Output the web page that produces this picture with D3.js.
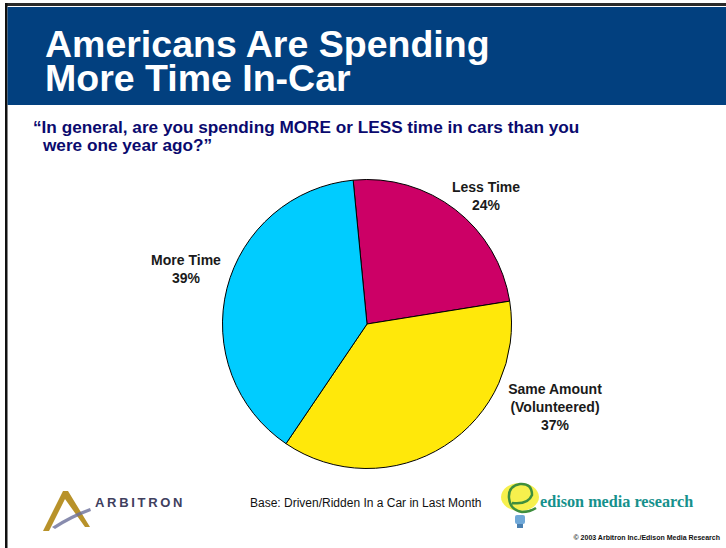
<!DOCTYPE html>
<html>
<head>
<meta charset="utf-8">
<script src="https://cdn.jsdelivr.net/npm/d3@7"></script>
<style>
  html, body { margin: 0; padding: 0; background: #fff; }
  svg { display: block; font-family: "Liberation Sans", Arial, sans-serif; }
</style>
</head>
<body>
<div id="chart"></div>
<script>
// pie data
const categories = ['Less Time', 'Same Amount', 'More Time'];
const labelLines = [['Less Time'], ['Same Amount', '(Volunteered)'], ['More Time']];
const values = [24, 37, 39];
const colors = ['#CC0066', '#FFE80A', '#00CCFF'];

const titleLines = ['Americans Are Spending', 'More Time In-Car'];
const questionLines = ['\u201cIn general, are you spending MORE or LESS time in cars than you', 'were one year ago?\u201d'];
const baseNote = 'Base: Driven/Ridden In a Car in Last Month';
const copyright = '\u00a9 2003 Arbitron Inc./Edison Media Research';

const width = 726, height = 548;
const cx = 367, cy = 324, radius = 144.5;

// where each label block sits (hand placed, like the slide)
const labelPos = {
    'Less Time':   { x: 486, y: 192 },
    'Same Amount': { x: 555, y: 394 },
    'More Time':   { x: 186, y: 265 }
};

const svg = d3.select('#chart').append('svg')
    .attr('width', width)
    .attr('height', height);

// frame + header band
svg.append('rect').attr('x', 5).attr('y', 3).attr('width', width - 5).attr('height', 3).attr('fill', '#2a2a2a');
svg.append('rect').attr('x', 5).attr('y', 3).attr('width', 2.5).attr('height', height - 3).attr('fill', '#111');
svg.append('rect')
    .attr('x', 7.5).attr('y', 7)
    .attr('width', width - 7.5).attr('height', 98)
    .attr('fill', '#02407F');

// title as one block, two lines
svg.append('text')
    .attr('fill', '#fff')
    .attr('font-size', '37.5px')
    .attr('font-weight', 'bold')
    .selectAll('tspan')
    .data(titleLines)
    .join('tspan')
    .attr('x', 45)
    .attr('y', (d, i) => 57 + i * 34)
    .text(d => d);

svg.append('text')
    .attr('fill', '#0A0A6E')
    .attr('font-size', '17.2px')
    .attr('font-weight', 'bold')
    .selectAll('tspan')
    .data(questionLines)
    .join('tspan')
    .attr('x', (d, i) => i === 0 ? 33 : 43)
    .attr('y', (d, i) => 133 + i * 18)
    .text(d => d);

// pie
const pie = d3.pie().sort(null).value(d => d)
    .startAngle(-5.5 * Math.PI / 180)
    .endAngle(2 * Math.PI - 5.5 * Math.PI / 180);
const arc = d3.arc().innerRadius(0).outerRadius(radius);

const g = svg.append('g').attr('transform', `translate(${cx},${cy})`);
g.selectAll('path')
    .data(pie(values))
    .join('path')
    .attr('d', arc)
    .attr('fill', (d, i) => colors[i])
    .attr('stroke', '#000')
    .attr('stroke-width', 1);

// slice labels
categories.forEach((cat, i) => {
    const pos = labelPos[cat];
    const lines = labelLines[i].concat([values[i] + '%']);
    svg.append('text')
        .attr('text-anchor', 'middle')
        .attr('font-size', '14px')
        .attr('font-weight', 'bold')
        .attr('fill', '#1a1a1a')
        .selectAll('tspan')
        .data(lines)
        .join('tspan')
        .attr('x', pos.x)
        .attr('y', (d, j) => pos.y + j * 18)
        .text(d => d);
});

// footer note
svg.append('text')
    .attr('x', 250).attr('y', 507)
    .attr('font-size', '12px')
    .attr('fill', '#111')
    .text(baseNote);

svg.append('text')
    .attr('x', 720).attr('y', 540)
    .attr('text-anchor', 'end')
    .attr('font-size', '7px')
    .attr('font-weight', 'bold')
    .attr('fill', '#111')
    .text(copyright);

// Arbitron logo (rough)
const arb = svg.append('g');
arb.append('path')
    .attr('d', 'M43,531 L63,491 L68,491 L90,527 L85,527 L65,499 L49,531 Z')
    .attr('fill', '#B8922A');
arb.append('path')
    .attr('d', 'M52,527 Q70,515 90,508 L91,511 Q72,518 55,529 Z')
    .attr('fill', '#6a6f9a')
    .attr('opacity', 0.8);
arb.append('text')
    .attr('x', 95).attr('y', 507)
    .attr('font-size', '13px')
    .attr('font-weight', 'bold')
    .attr('letter-spacing', '2.7px')
    .attr('fill', '#40405e')
    .text('ARBITRON');

// Edison logo (rough)
const ed = svg.append('g');
ed.append('ellipse')
    .attr('cx', 520).attr('cy', 497).attr('rx', 19).attr('ry', 14)
    .attr('fill', '#F5EE3A').attr('opacity', 0.9);
ed.append('path')
    .attr('d', 'M512,503 Q528,505 532,495 Q532,483 520,484 Q508,486 509,498 Q510,510 522,512 Q530,512 536,508')
    .attr('fill', 'none')
    .attr('stroke', '#3E8E3E')
    .attr('stroke-width', 2.5);
ed.append('rect')
    .attr('x', 515).attr('y', 515).attr('width', 10).attr('height', 9)
    .attr('rx', 2)
    .attr('fill', '#6FA8D8');
ed.append('rect')
    .attr('x', 517).attr('y', 524).attr('width', 6).attr('height', 4)
    .attr('fill', '#4a7fb0');
ed.append('text')
    .attr('x', 540).attr('y', 507)
    .attr('font-family', '"Liberation Serif", "Times New Roman", serif')
    .attr('font-size', '16.2px')
    .attr('font-weight', 'bold')
    .attr('fill', '#16918C')
    .text('edison media research');
</script>
</body>
</html>
